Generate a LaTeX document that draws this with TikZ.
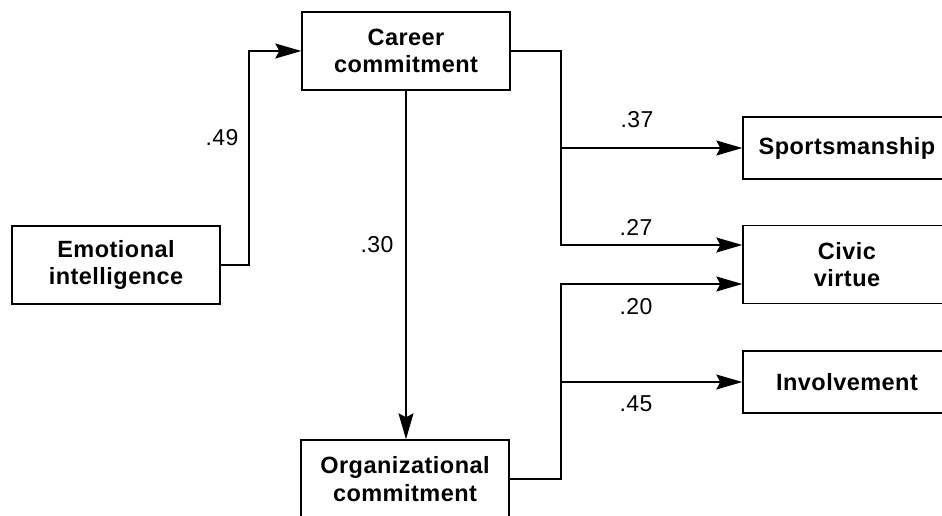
\documentclass[tikz,border=0pt]{standalone}
\usepackage{fontspec}
\usetikzlibrary{arrows.meta,calc}
\newfontfamily\diafont[LetterSpace=2]{Liberation Sans}
\tikzset{
  var/.style={draw, line width=1.4pt, inner sep=0pt, minimum width=208pt, align=center,
    font={\diafont\bfseries\fontsize{23.5}{27.5}\selectfont}},
  tall/.style={minimum height=78pt},
  short/.style={minimum height=62pt},
  lbl/.style={inner sep=0pt, font={\diafont\fontsize{23}{24}\selectfont}},
  arr/.style={line width=1.4pt, -{Stealth[length=26pt,width=15pt,inset=4pt]}}
}
\begin{document}
\begin{tikzpicture}[x=1pt,y=-1pt]
\useasboundingbox (0,0) rectangle (942,516);
\clip (0,0) rectangle (942,516);
\fill[white] (0,0) rectangle (942,516);
% boxes
\node[var,tall] (E) at (116,265) {Emotional\\intelligence};
\node[var,tall] (C) at (406,51) {Career\\commitment};
\node[var,tall] (O) at (405,479) {Organizational\\commitment};
\node[var,short] (S) at (847,148) {Sportsmanship};
\node[var,tall] (V) at (847,264.5) {Civic\\virtue};
\node[var,short] (I) at (847,382) {Involvement};
% junction columns
\coordinate (jl) at (249,0);
\coordinate (jr) at (561,0);
\path (V.west) ++(0,-19.5) coordinate (v1);
\path (V.west) ++(0,19.5) coordinate (v2);
% connectors
\draw[arr] (E.east) -- (E.east -| jl) |- (C.west);
\draw[arr] (C.south) -- (C.south |- O.north);
\draw[arr] (C.east) -| (jr |- v1) -- (v1);
\draw[arr] (jr |- S.west) -- (S.west);
\draw[arr] (O.east) -| (jr |- v2) -- (v2);
\draw[arr] (jr |- I.west) -- (I.west);
% labels
\node[lbl] (l49) at (222,138) {.49};
\node[lbl] (l30) at (377,245) {.30};
\node[lbl] (l37) at (637,120) {.37};
\node[lbl] (l27) at (636,227) {.27};
\node[lbl] (l20) at (636,307) {.20};
\node[lbl] (l45) at (636,404) {.45};
\end{tikzpicture}
\end{document}
